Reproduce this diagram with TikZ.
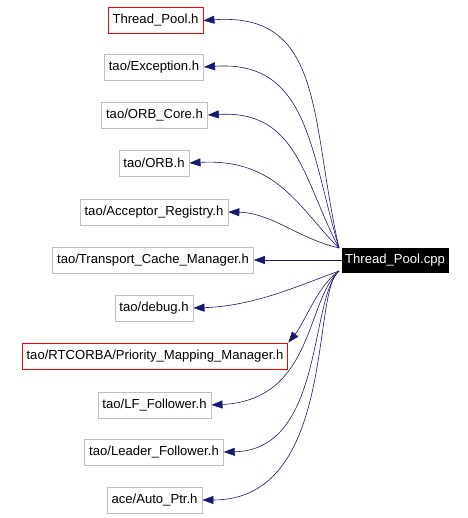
\documentclass[tikz,border=0pt]{standalone}
\usepackage{fontspec}
\setmainfont{Liberation Sans}
\usetikzlibrary{arrows.meta,positioning}
\definecolor{edgeblue}{HTML}{191970}
\definecolor{boxgray}{HTML}{BFBFBF}
\definecolor{boxred}{HTML}{FF0000}
\tikzset{every node/.style={font=\fontsize{13.1}{15}\selectfont}}

\begin{document}
\begin{tikzpicture}[
x=1pt, y=-1pt,
file/.style={draw=boxgray, line width=0.8pt, rectangle, inner xsep=4.5pt, minimum height=26pt},
redfile/.style={file, draw=boxred},
mainfile/.style={draw=black, fill=black, text=white, rectangle, inner xsep=3pt, minimum height=24pt},
dep/.style={draw=edgeblue, line width=0.6pt, -{Triangle[length=11pt,width=8pt]}}
]
\useasboundingbox (0,0) rectangle (467,518);

\node[mainfile] (cpp) at (395,260) {Thread\_Pool.cpp};

\node[redfile] (tph) at (155.5,20.5) {Thread\_Pool.h};
\node[file] (exch) at (154,67) {tao/Exception.h};
\node[file] (orbcore) at (154.5,115) {tao/ORB\_Core.h};
\node[file] (orb) at (154,163) {tao/ORB.h};
\node[file] (acceptor) at (154,212) {tao/Acceptor\_Registry.h};
\node[file] (transport) at (153,260) {tao/Transport\_Cache\_Manager.h};
\node[file] (debug) at (154,308) {tao/debug.h};
\node[redfile] (rtcorba) at (155,356) {tao/RTCORBA/Priority\_Mapping\_Manager.h};
\node[file] (lffollower) at (154.5,405) {tao/LF\_Follower.h};
\node[file] (leader) at (154,452) {tao/Leader\_Follower.h};
\node[file] (autoptr) at (154.5,500) {ace/Auto\_Ptr.h};

\coordinate (up) at (339,248);
\coordinate (down) at (339,271);

\draw[dep] (up) .. controls (310,120) and (325,12) .. (tph.east);
\draw[dep] (up) .. controls (310,150) and (308,60) .. (exch.east);
\draw[dep] (up) .. controls (303,180) and (298,110) .. (orbcore.east);
\draw[dep] (up) .. controls (300,210) and (278,158) .. (orb.east);
\draw[dep] (up) .. controls (297,238) and (272,213) .. (acceptor.east);
\draw[dep] (cpp.west) -- (transport.east);
\draw[dep] (down) .. controls (300,285) and (255,306) .. (debug.east);
\draw[dep] (down) .. controls (318,285) and (305,322) .. (rtcorba.north east);
\draw[dep] (down) .. controls (306,300) and (314,400) .. (lffollower.east);
\draw[dep] (down) .. controls (309,300) and (324,450) .. (leader.east);
\draw[dep] (down) .. controls (311,290) and (337,500) .. (autoptr.east);

\end{tikzpicture}
\end{document}
